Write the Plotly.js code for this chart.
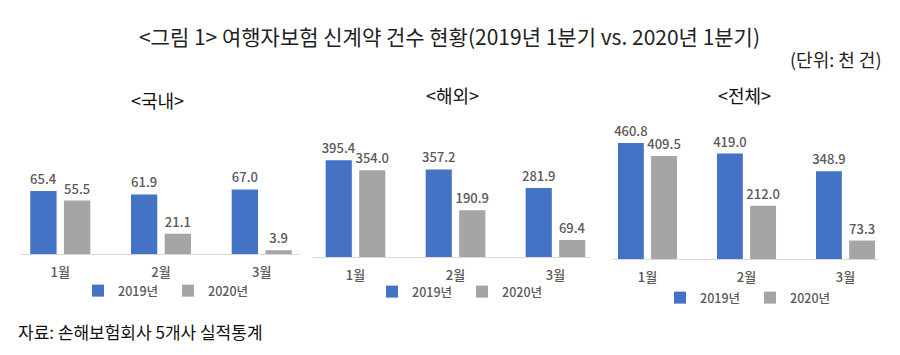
<!DOCTYPE html>
<html><head><meta charset="utf-8">
<script src="https://cdn.plot.ly/plotly-3.0.1.min.js"></script>
<style>html,body{margin:0;padding:0;background:#fff}</style>
</head><body><div id="chart" style="width:900px;height:355px"></div>
<script>
const months = ['1월', '2월', '3월'];
const seriesNames = ['2019년', '2020년'];
const domestic2019 = [65.4, 61.9, 67.0];
const domestic2020 = [55.5, 21.1, 3.9];
const overseas2019 = [395.4, 357.2, 281.9];
const overseas2020 = [354.0, 190.9, 69.4];
const total2019 = [460.8, 419.0, 348.9];
const total2020 = [409.5, 212.0, 73.3];
const panelTitles = ['&lt;국내&gt;', '&lt;해외&gt;', '&lt;전체&gt;'];
const chartTitle = '&lt;그림 1&gt; 여행자보험 신계약 건수 현황(2019년 1분기 vs. 2020년 1분기)';
const unitText = '(단위: 천 건)';
const sourceText = '자료: 손해보험회사 5개사 실적통계';

const W = 900, H = 355;
const FONT = 'Noto Sans CJK KR, Noto Sans, sans-serif';
const colors = ['#4472C4', '#A5A5A5'];
const px = v => v / W;
const py = v => 1 - v / H;

const panels = [
  {s: [domestic2019, domestic2020], x0: 20, x1: 300, xr: [-0.40, 2.38], base: 254, top: 150, scale: 0.963, legX: 168, legY: 291, tX: 157, tY: 100},
  {s: [overseas2019, overseas2020], x0: 313, x1: 590, xr: [-0.425, 2.345], base: 257, top: 140, scale: 0.245, legX: 462, legY: 292, tX: 452, tY: 95},
  {s: [total2019, total2020], x0: 613, x1: 878, xr: [-0.348, 2.328], base: 259, top: 130, scale: 0.2517, legX: 750, legY: 298, tX: 744, tY: 95}
];

const data = [];
const layout = {
  width: W, height: H,
  margin: {l: 0, r: 0, t: 0, b: 0},
  paper_bgcolor: '#fff', plot_bgcolor: 'rgba(0,0,0,0)',
  barmode: 'group', bargap: 0.33, bargroupgap: 0.22,
  font: {family: FONT, color: '#595959'},
  title: {text: chartTitle, x: 449.5 / W, xanchor: 'center', xref: 'paper', y: py(38), yanchor: 'middle', yref: 'paper',
          font: {family: FONT, size: 21, color: '#222'}},
  annotations: [
    {text: unitText, xref: 'paper', yref: 'paper', x: px(883), y: py(59), xanchor: 'right', yanchor: 'middle', showarrow: false,
     font: {family: FONT, size: 18, color: '#222'}},
    {text: sourceText, xref: 'paper', yref: 'paper', x: px(16), y: py(331), xanchor: 'left', yanchor: 'middle', showarrow: false,
     font: {family: FONT, size: 17, color: '#111'}}
  ]
};

panels.forEach((p, i) => {
  const n = i === 0 ? '' : String(i + 1);
  const legName = 'legend' + n;
  p.s.forEach((vals, k) => {
    data.push({
      type: 'bar', x: months, y: vals, name: seriesNames[k],
      xaxis: 'x' + n, yaxis: 'y' + n, legend: legName,
      marker: {color: colors[k]},
      texttemplate: '%{y:.1f}', textposition: 'outside', cliponaxis: false, constraintext: 'none',
      textfont: {family: FONT, size: 13, color: '#595959', weight: 500},
      hoverinfo: 'x+y+name'
    });
  });
  layout['xaxis' + n] = {
    domain: [px(p.x0), px(p.x1)], anchor: 'y' + n, type: 'category', range: p.xr,
    showline: true, linecolor: '#D9D9D9', linewidth: 1, showgrid: false, zeroline: false,
    ticks: '', ticklabelstandoff: 6, tickfont: {family: FONT, size: 13, color: '#595959', weight: 500}, fixedrange: true
  };
  layout['yaxis' + n] = {
    domain: [py(p.base), py(p.top)], anchor: 'x' + n, range: [0, (p.base - p.top) / p.scale],
    visible: false, showgrid: false, zeroline: false, fixedrange: true
  };
  layout[legName] = {
    orientation: 'h', x: px(p.legX), xanchor: 'center', y: py(p.legY), yanchor: 'middle',
    xref: 'paper', yref: 'paper', bgcolor: 'rgba(0,0,0,0)', borderwidth: 0,
    font: {family: FONT, size: 12.5, color: '#595959', weight: 500}, itemwidth: 30, entrywidth: 45, tracegroupgap: 0
  };
  layout.annotations.push({
    text: panelTitles[i], xref: 'paper', yref: 'paper', x: px(p.tX), y: py(p.tY), xanchor: 'center', yanchor: 'middle',
    showarrow: false, font: {family: FONT, size: 18, color: '#111'}
  });
});

Plotly.newPlot('chart', data, layout, {displayModeBar: false, staticPlot: true});
</script></body></html>
